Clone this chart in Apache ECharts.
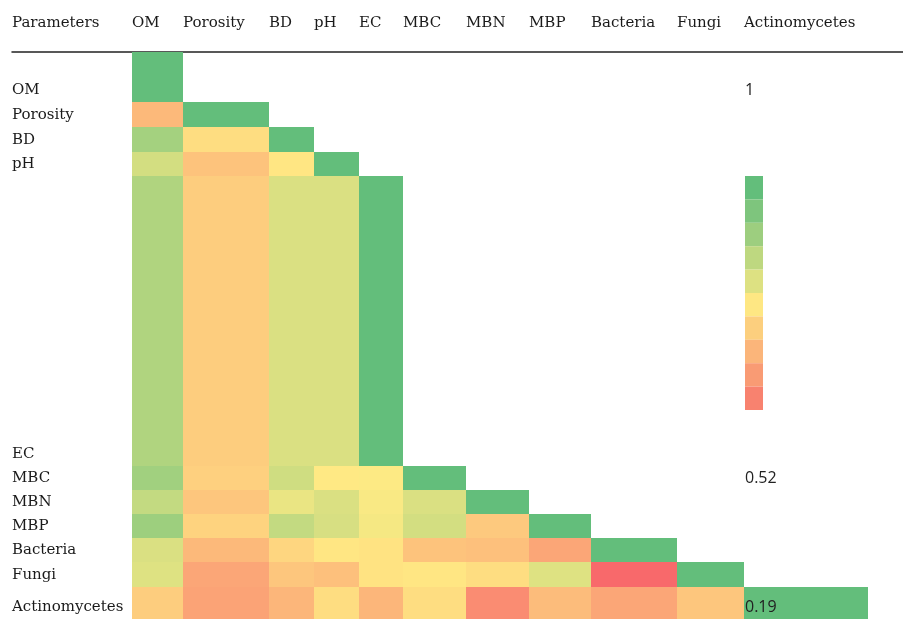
<!DOCTYPE html>
<html>
<head>
<meta charset="utf-8">
<script src="https://cdn.jsdelivr.net/npm/echarts@6/dist/echarts.min.js"></script>
<style>
  html, body { margin: 0; padding: 0; background: #fff; }
  #corr-chart { width: 903px; height: 619px; }
</style>
</head>
<body>
<div id="corr-chart"></div>
<script>
// parameter names (rows and columns)
var params = ["OM", "Porosity", "BD", "pH", "EC", "MBC", "MBN", "MBP", "Bacteria", "Fungi", "Actinomycetes"];

// lower triangle, one row per parameter
var rowOM = [1];
var rowPorosity = [0.44, 1];
var rowBD = [0.83, 0.55, 1];
var rowPH = [0.71, 0.47, 0.58, 1];
var rowEC = [0.8, 0.5, 0.69, 0.69, 1];
var rowMBC = [0.84, 0.51, 0.72, 0.59, 0.6, 1];
var rowMBN = [0.75, 0.48, 0.65, 0.69, 0.61, 0.69, 1];
var rowMBP = [0.85, 0.52, 0.75, 0.7, 0.62, 0.71, 0.49, 1];
var rowBacteria = [0.69, 0.44, 0.53, 0.58, 0.57, 0.47, 0.46, 0.38, 1];
var rowFungi = [0.68, 0.38, 0.48, 0.46, 0.57, 0.58, 0.55, 0.68, 0.19, 1];
var rowActino = [0.5, 0.37, 0.43, 0.55, 0.43, 0.55, 0.3, 0.45, 0.38, 0.48, 1];
var corrRows = [rowOM, rowPorosity, rowBD, rowPH, rowEC, rowMBC, rowMBN, rowMBP, rowBacteria, rowFungi, rowActino];

// colour scale and its legend
var scaleMin = 0.19;
var scaleMax = 1;
var legendTicks = [1, 0.52, 0.19];
var legendTickRows = [0, 5, 10];
var legendColors = ["#63BE7B", "#7EC57D", "#9DCE7F", "#BED880", "#DDE182", "#FEE783", "#FCCF7E", "#FBB57A", "#F99B74", "#F8826F"];

// table layout (px): first column holds the row names
var colWidths = [120, 51, 86, 45, 45, 44, 63, 63, 62, 86, 67, 124];
var rowHeights = [50, 25, 25, 24, 290, 24, 24, 24, 24, 25, 32];

var colEdges = [0];
colWidths.forEach(function (w) { colEdges.push(colEdges[colEdges.length - 1] + w); });
var rowEdges = [0];
rowHeights.forEach(function (h) { rowEdges.push(rowEdges[rowEdges.length - 1] + h); });

var headers = ["Parameters"].concat(params);

var cells = [];
corrRows.forEach(function (row, r) {
  row.forEach(function (v, c) {
    cells.push([c, r, v]);
  });
});

var tickData = legendTicks.map(function (t, i) {
  return [params.length - 1, legendTickRows[i], t];
});

var step = (scaleMax - scaleMin) / legendColors.length;
var legendPieces = legendColors.map(function (col, i) {
  var k = legendColors.length - 1 - i; // 0 = lowest piece
  return { gte: scaleMin + step * k, lt: scaleMin + step * (k + 1), color: col };
});

var serif = "DejaVu Serif";
var textColor = "#1a1a1a";

var chartDom = document.getElementById("corr-chart");
var myChart = echarts.init(chartDom);
var option;

option = {
  animation: false,
  grid: { left: 12, top: 52, right: 0, bottom: 0 },
  xAxis: {
    type: "value",
    position: "top",
    min: 0,
    max: 891,
    axisLine: { show: true, onZero: false, lineStyle: { color: "#222", width: 1.5 } },
    axisTick: { show: false },
    splitLine: { show: false },
    axisLabel: {
      customValues: colEdges.slice(0, headers.length),
      formatter: function (v) {
        return headers[colEdges.indexOf(v)];
      },
      align: "left",
      verticalAlign: "middle",
      margin: 29,
      fontFamily: serif,
      fontSize: 15,
      color: textColor,
    },
  },
  yAxis: {
    type: "value",
    inverse: true,
    min: 0,
    max: rowEdges[rowEdges.length - 1],
    axisLine: { show: false },
    axisTick: { show: false },
    splitLine: { show: false },
    axisLabel: {
      inside: true,
      margin: 0,
      customValues: rowEdges.slice(1),
      formatter: function (v) {
        return params[rowEdges.indexOf(v) - 1];
      },
      align: "left",
      verticalAlign: "bottom",
      lineHeight: 16,
      padding: [0, 0, 4, 0],
      fontFamily: serif,
      fontSize: 15,
      color: textColor,
    },
  },
  visualMap: [
    {
      type: "continuous",
      show: false,
      seriesIndex: 0,
      dimension: 2,
      min: scaleMin,
      max: scaleMax,
      inRange: { color: ["#F8696B", "#FFEB84", "#63BE7B"] },
    },
    {
      type: "piecewise",
      seriesIndex: 2,
      orient: "vertical",
      left: 745,
      top: 176,
      padding: 0,
      itemWidth: 18,
      itemHeight: 23.4,
      itemGap: 0,
      itemSymbol: "rect",
      showLabel: false,
      pieces: legendPieces,
    },
  ],
  series: [
    {
      type: "custom",
      encode: { x: 0, y: 1 },
      data: cells,
      renderItem: function (p, api) {
        var c = api.value(0);
        var r = api.value(1);
        var p0 = api.coord([colEdges[c + 1], rowEdges[r]]);
        var p1 = api.coord([colEdges[c + 2], rowEdges[r + 1]]);
        return {
          type: "rect",
          shape: { x: p0[0], y: p0[1], width: p1[0] - p0[0], height: p1[1] - p0[1] },
          style: { fill: api.visual("color") },
        };
      },
    },
    {
      type: "custom",
      encode: { x: 0, y: 1 },
      data: tickData,
      z: 5,
      renderItem: function (p, api) {
        var c = api.value(0);
        var r = api.value(1);
        var pt = api.coord([colEdges[c + 1], rowEdges[r + 1]]);
        return {
          type: "text",
          x: pt[0] + 1,
          y: pt[1] - 4,
          style: {
            text: String(api.value(2)),
            fill: "#222",
            fontFamily: "Open Sans",
            fontSize: 16,
            align: "left",
            verticalAlign: "bottom",
          },
        };
      },
    },
    {
      type: "scatter",
      data: [],
    },
  ],
};

option && myChart.setOption(option);
</script>
</body>
</html>
